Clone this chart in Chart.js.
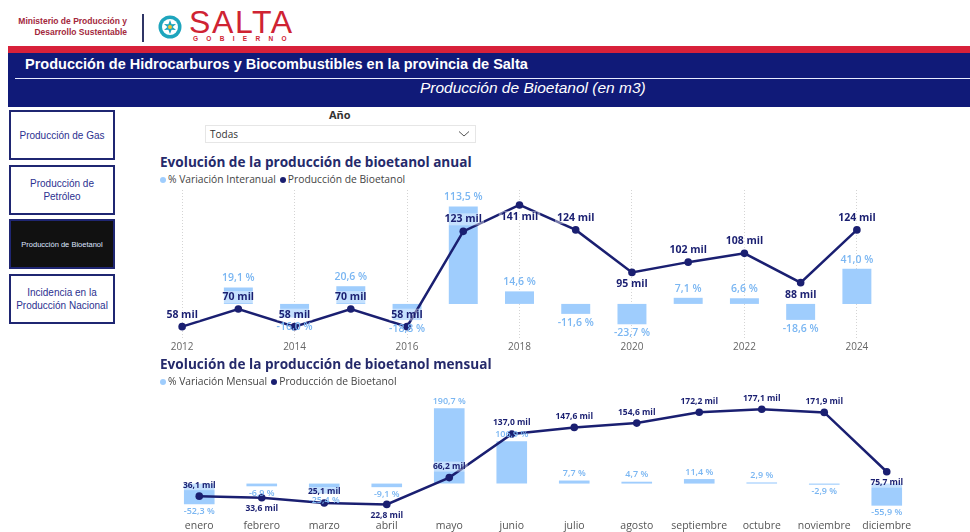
<!DOCTYPE html>
<html lang="es">
<head>
<meta charset="utf-8">
<title>Producción de Bioetanol</title>
<script src="https://cdn.jsdelivr.net/npm/chart.js@4.4.1/dist/chart.umd.min.js"></script>
<style>
  html, body { margin: 0; padding: 0; background: #fff; }
  body { width: 970px; height: 532px; position: relative; overflow: hidden;
         font-family: "Liberation Sans", Arial, sans-serif; }
  .abs { position: absolute; }
  #ministry { left: 6px; top: 16px; width: 121px; text-align: right; font-weight: bold;
              font-size: 8.5px; line-height: 11px; color: #a3283c; white-space: nowrap; }
  #sep { left: 142px; top: 14px; width: 2px; height: 28px; background: #2f3566; }
  #logo { left: 158px; top: 15px; }
  #salta { left: 189px; top: 5px; font-size: 32px; line-height: 34px; color: #cf2333; letter-spacing: 1.6px; }
  #gobierno { left: 193px; top: 35px; font-size: 6.5px; font-weight: bold; color: #cf2333; letter-spacing: 8.3px; }
  #redbar { left: 8px; top: 46px; width: 962px; height: 7px; background: #d8213a; }
  #band { left: 8px; top: 53px; width: 962px; height: 54px; background: #101a78; }
  #band .rule { position: absolute; left: 7px; right: 0; top: 25px; height: 1px; background: #e8ecff; }
  #mainTitle { left: 17px; top: 2px; color: #fff; font-weight: bold; font-size: 14.5px; line-height: 18px; }
  #subTitle { left: 412px; top: 26px; color: #fff; font-style: italic; font-size: 15.5px; line-height: 18px; }
  .btn { position: absolute; left: 9px; width: 102px; height: 46px; border: 2px solid #1f2672; background: #fff;
         color: #2b3190; font-size: 10px; line-height: 13px; display: flex; align-items: center;
         justify-content: center; text-align: center; }
  .btn.active { background: #111; color: #dfe5ff; font-size: 7.5px; }
  #yearLabel { left: 329px; top: 107px; font-family: "Open Sans", sans-serif; font-weight: bold; font-size: 11px; color: #333; }
  #dropdown { left: 205px; top: 125px; width: 269px; height: 16px; border: 1px solid #e6e6e6; }
  #dropdown span { position: absolute; left: 4px; top: 1px; font-family: "Open Sans", sans-serif; font-size: 10px; color: #333; }
  #dropdown svg { position: absolute; right: 5px; top: 4px; }
  .chartTitle { left: 160px; font-family: "Open Sans", sans-serif; font-weight: bold; font-size: 13.6px; color: #252a6b; white-space: nowrap; }
  .legend { left: 160px; font-family: "Open Sans", sans-serif; font-size: 10.3px; color: #444; white-space: nowrap; }
  .legend i { display: inline-block; width: 6px; height: 6px; border-radius: 50%; margin: 0 2px 0 0; vertical-align: 0; }
  .legend b { font-weight: normal; margin-right: 4px; }
  canvas { position: absolute; }
</style>
</head>
<body>
<!-- Cabecera institucional -->
<div id="ministry" class="abs">Ministerio de Producción y<br>Desarrollo Sustentable</div>
<div id="sep" class="abs"></div>
<svg id="logo" class="abs" width="24" height="24" viewBox="0 0 24 24">
  <circle cx="12" cy="12" r="11.5" fill="#1ea5bd"/>
  <circle cx="12" cy="12" r="8" fill="#fff"/>
  <polygon fill="#1ea5bd" points="12,5 13.6,9.2 18,9 14.6,12 18,15 13.6,14.8 12,19 10.4,14.8 6,15 9.4,12 6,9 10.4,9.2"/>
  <circle cx="12" cy="12" r="2" fill="#f2c230"/>
</svg>
<div id="salta" class="abs">SALTA</div>
<div id="gobierno" class="abs">GOBIERNO</div>
<div id="redbar" class="abs"></div>
<div id="band" class="abs">
  <div id="mainTitle" class="abs">Producción de Hidrocarburos y Biocombustibles en la provincia de Salta</div>
  <div class="rule"></div>
  <div id="subTitle" class="abs">Producción de Bioetanol (en m3)</div>
</div>

<!-- Navegación -->
<div class="btn" style="top:110px;">Producción de Gas</div>
<div class="btn" style="top:165px;">Producción de<br>Petróleo</div>
<div class="btn active" style="top:219px;">Producción de Bioetanol</div>
<div class="btn" style="top:274px;">Incidencia en la<br>Producción Nacional</div>

<!-- Filtro de año -->
<div id="yearLabel" class="abs">Año</div>
<div id="dropdown" class="abs"><span>Todas</span>
  <svg width="12" height="8" viewBox="0 0 12 8"><polyline points="1,1.5 6,6 11,1.5" fill="none" stroke="#555" stroke-width="1"/></svg>
</div>

<!-- Gráfico anual -->
<div class="abs chartTitle" style="top:152px;">Evolución de la producción de bioetanol anual</div>
<div class="abs legend" style="top:172px;"><i style="background:#9fcdfd"></i><b>% Variación Interanual</b><i style="background:#1a1f71"></i><b>Producción de Bioetanol</b></div>
<canvas id="annual" width="740" height="172" style="left:150px;top:186px;"></canvas>

<!-- Gráfico mensual -->
<div class="abs chartTitle" style="top:354px;">Evolución de la producción de bioetanol mensual</div>
<div class="abs legend" style="top:374px;"><i style="background:#9fcdfd"></i><b>% Variación Mensual</b><i style="background:#1a1f71"></i><b>Producción de Bioetanol</b></div>
<canvas id="monthly" width="765" height="140" style="left:160px;top:392px;"></canvas>

<script>
// Producción anual de bioetanol (miles de m3) y variación interanual (%)
const years = ['2012', '2013', '2014', '2015', '2016', '2017', '2018', '2019', '2020', '2021', '2022', '2023', '2024'];
const annualProduction = [58, 70, 58, 70, 58, 123, 141, 124, 95, 102, 108, 88, 124];
const annualVariation = [null, 19.1, -16.0, 20.6, -18.8, 113.5, 14.6, -11.6, -23.7, 7.1, 6.6, -18.6, 41.0];

// Producción mensual de bioetanol (miles de m3) y variación mensual (%)
const months = ['enero', 'febrero', 'marzo', 'abril', 'mayo', 'junio', 'julio', 'agosto', 'septiembre', 'octubre', 'noviembre', 'diciembre'];
const monthlyProduction = [36.1, 33.6, 25.1, 22.8, 66.2, 137.0, 147.6, 154.6, 172.2, 177.1, 171.9, 75.7];
const monthlyVariation = [-52.3, -6.9, -25.4, -9.1, 190.7, 106.9, 7.7, 4.7, 11.4, 2.9, -2.9, -55.9];

const NAVY = '#1a1f71';
const BAR_BLUE = '#9fcdfd';
const PCT_BLUE = '#7ab6f2';

const comma = (v, d) => v.toFixed(d).replace('.', ',');

function valueLabels(cfg) {
  return {
    id: 'valueLabels',
    afterDatasetsDraw(chart) {
      const ctx = chart.ctx;
      ctx.save();
      ctx.textAlign = 'center';
      ctx.textBaseline = 'middle';
      chart.data.datasets.forEach((ds, di) => {
        const meta = chart.getDatasetMeta(di);
        if (ds.type !== 'bar') return;
        ctx.font = cfg.barFont;
        ctx.fillStyle = PCT_BLUE;
        meta.data.forEach((el, i) => {
          const v = ds.data[i];
          if (v === null || v === undefined) return;
          const y = v >= 0 ? el.y - cfg.barGap : el.y + cfg.barGap;
          ctx.fillText(comma(v, 1) + ' %', el.x, y);
        });
      });
      chart.data.datasets.forEach((ds, di) => {
        const meta = chart.getDatasetMeta(di);
        if (ds.type !== 'line') return;
        ctx.font = cfg.lineFont;
        meta.data.forEach((el, i) => {
          const v = ds.data[i];
          const txt = cfg.lineText(v);
          const below = cfg.below.includes(i);
          const y = below ? el.y + cfg.lineGap : el.y - cfg.lineGap;
          const w = ctx.measureText(txt).width;
          ctx.fillStyle = 'rgba(255,255,255,0.4)';
          ctx.fillRect(el.x - w / 2 - 2, y - cfg.boxH / 2, w + 4, cfg.boxH);
          ctx.fillStyle = NAVY;
          ctx.fillText(txt, el.x, y);
        });
      });
      ctx.restore();
    }
  };
}

// Eje de categorías con altura fija para que el área de trazado sea estable
const baseOptions = (xTicks, xGrid, varRange, prodRange, pad, axisHeight) => ({
  responsive: false,
  animation: false,
  layout: { padding: pad },
  plugins: { legend: { display: false }, tooltip: { enabled: false } },
  scales: {
    x: {
      offset: true,
      grid: xGrid,
      border: { display: false, dash: [1, 2] },
      ticks: xTicks,
      afterFit: axis => { axis.height = axisHeight; }
    },
    yVar: { display: false, min: varRange[0], max: varRange[1] },
    yProd: { display: false, min: prodRange[0], max: prodRange[1] }
  }
});

// Evolución anual
new Chart(document.getElementById('annual'), {
  type: 'bar',
  data: {
    labels: years,
    datasets: [
      { type: 'line', label: 'Producción de Bioetanol', data: annualProduction, yAxisID: 'yProd',
        borderColor: NAVY, backgroundColor: NAVY, borderWidth: 2.5, pointRadius: 3.8,
        pointBackgroundColor: NAVY, pointBorderWidth: 0, tension: 0, order: 0 },
      { type: 'bar', label: '% Variación Interanual', data: annualVariation, yAxisID: 'yVar',
        backgroundColor: BAR_BLUE, barPercentage: 0.515, categoryPercentage: 1, order: 1 }
    ]
  },
  options: baseOptions(
    { autoSkip: false, maxRotation: 0, padding: 1, color: '#666',
      font: { family: 'Open Sans', size: 10 },
      callback: (v, i) => (i % 2 === 0 ? years[i] : '') },
    { offset: false, drawTicks: false, lineWidth: 1,
      color: c => (c.index % 2 === 0 ? '#d4d4d4' : 'rgba(0,0,0,0)') },
    [-42, 132.6], [48.9, 151.2],
    { left: 3, right: 5, top: 4, bottom: 0 }, 18
  ),
  plugins: [valueLabels({
    barFont: '600 10.5px "Open Sans"', lineFont: 'bold 10.5px "Open Sans"',
    barGap: 9, lineGap: 12, boxH: 12, below: [6, 8, 11],
    lineText: v => v + ' mil'
  })]
});

// Evolución mensual
new Chart(document.getElementById('monthly'), {
  type: 'bar',
  data: {
    labels: months,
    datasets: [
      { type: 'line', label: 'Producción de Bioetanol', data: monthlyProduction, yAxisID: 'yProd',
        borderColor: NAVY, backgroundColor: NAVY, borderWidth: 2.5, pointRadius: 3.8,
        pointBackgroundColor: NAVY, pointBorderWidth: 0, tension: 0, order: 0 },
      { type: 'bar', label: '% Variación Mensual', data: monthlyVariation, yAxisID: 'yVar',
        backgroundColor: BAR_BLUE, barPercentage: 0.49, categoryPercentage: 1, order: 1 }
    ]
  },
  options: baseOptions(
    { autoSkip: false, maxRotation: 0, padding: 6, color: '#555',
      font: { family: 'Open Sans', size: 10.5 } },
    { display: false, drawTicks: false },
    [-77, 221.6], [7.2, 198.5],
    { left: 8, right: 7, top: 3, bottom: 0 }, 18
  ),
  plugins: [valueLabels({
    barFont: '600 9px "Open Sans"', lineFont: 'bold 8.5px "Open Sans"',
    barGap: 7, lineGap: 11, boxH: 10, below: [1, 3, 11],
    lineText: v => comma(v, 1) + ' mil'
  })]
});
</script>
</body>
</html>
